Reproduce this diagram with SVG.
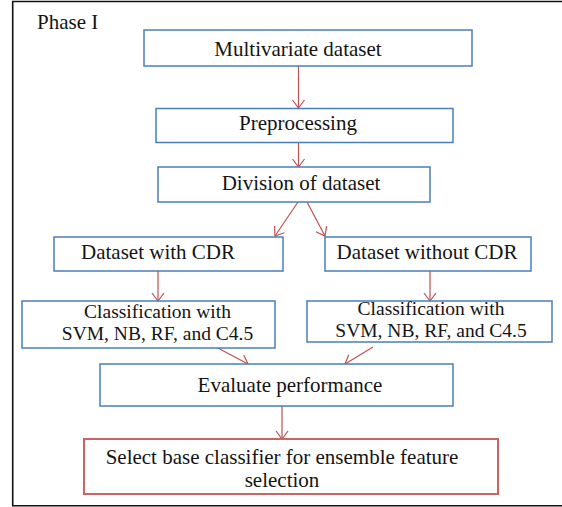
<svg xmlns="http://www.w3.org/2000/svg" width="562" height="507" viewBox="0 0 562 507" font-family="'Liberation Serif', 'Times New Roman', serif">
  <style>
    .box { fill: #ffffff; stroke: #4a7ebb; stroke-width: 1.5; }
    .box-red { fill: #ffffff; stroke: #c96565; stroke-width: 2; }
    .lbl { font-size: 21px; fill: #141414; text-anchor: middle; }
    .lbl2 { font-size: 19.5px; fill: #141414; text-anchor: middle; }
    .edge { fill: none; stroke: #c0504d; stroke-width: 1.2; }
  </style>
  <defs>
    <marker id="ah" viewBox="-10 -7 12 14" refX="0" refY="0" markerWidth="12" markerHeight="14" markerUnits="userSpaceOnUse" orient="auto">
      <path d="M-8,-6 L0,0 L-8,6" fill="none" stroke="#c0504d" stroke-width="1.2"/>
    </marker>
  </defs>
  <rect width="562" height="507" fill="#ffffff"/>

  <!-- phase frame (right side runs off the canvas) -->
  <path d="M564,1.5 H12.7 V505.8 H564" fill="none" stroke="#111" stroke-width="1.6"/>
  <text x="37" y="29" font-size="21" fill="#141414">Phase I</text>

  <g id="connectors">
    <line class="edge" x1="298.5" y1="66" x2="298.5" y2="108" marker-end="url(#ah)"/>
    <line class="edge" x1="298.5" y1="143" x2="298.5" y2="167" marker-end="url(#ah)"/>
    <line class="edge" x1="298" y1="202" x2="275" y2="236" marker-end="url(#ah)"/>
    <line class="edge" x1="307" y1="202" x2="325" y2="236" marker-end="url(#ah)"/>
    <line class="edge" x1="158" y1="271" x2="158" y2="301" marker-end="url(#ah)"/>
    <line class="edge" x1="430" y1="271" x2="430" y2="301" marker-end="url(#ah)"/>
    <line class="edge" x1="216" y1="347" x2="248" y2="364" marker-end="url(#ah)"/>
    <line class="edge" x1="373" y1="347" x2="345" y2="364" marker-end="url(#ah)"/>
    <line class="edge" x1="282" y1="406" x2="282" y2="439" marker-end="url(#ah)"/>
  </g>

  <g id="multivariate">
    <rect class="box" x="144" y="30" width="328" height="36"/>
    <text class="lbl" x="298" y="56">Multivariate dataset</text>
  </g>
  <g id="preprocessing">
    <rect class="box" x="156" y="108.5" width="297" height="34"/>
    <text class="lbl" x="298" y="130">Preprocessing</text>
  </g>
  <g id="division">
    <rect class="box" x="158" y="167" width="272" height="35"/>
    <text class="lbl" x="301" y="190">Division of dataset</text>
  </g>
  <g id="with-cdr">
    <rect class="box" x="54" y="237" width="229" height="34"/>
    <text class="lbl" x="158" y="259">Dataset with CDR</text>
  </g>
  <g id="without-cdr">
    <rect class="box" x="325" y="237" width="206" height="34"/>
    <text class="lbl" x="427" y="259">Dataset without CDR</text>
  </g>
  <g id="classify-with">
    <rect class="box" x="22" y="301" width="253" height="47"/>
    <text class="lbl2" x="157.5" y="318">Classification with</text>
    <text class="lbl2" x="157.5" y="339.7">SVM, NB, RF, and C4.5</text>
  </g>
  <g id="classify-without">
    <rect class="box" x="307" y="301" width="245" height="41"/>
    <text class="lbl2" x="431" y="315.3">Classification with</text>
    <text class="lbl2" x="431" y="337">SVM, NB, RF, and C4.5</text>
  </g>
  <g id="evaluate">
    <rect class="box" x="100" y="364" width="353" height="42"/>
    <text class="lbl" x="290" y="391.7">Evaluate performance</text>
  </g>
  <g id="select">
    <rect class="box-red" x="84" y="439" width="414" height="55"/>
    <text class="lbl" x="282" y="464">Select base classifier for ensemble feature</text>
    <text class="lbl" x="282" y="486.7">selection</text>
  </g>
</svg>
